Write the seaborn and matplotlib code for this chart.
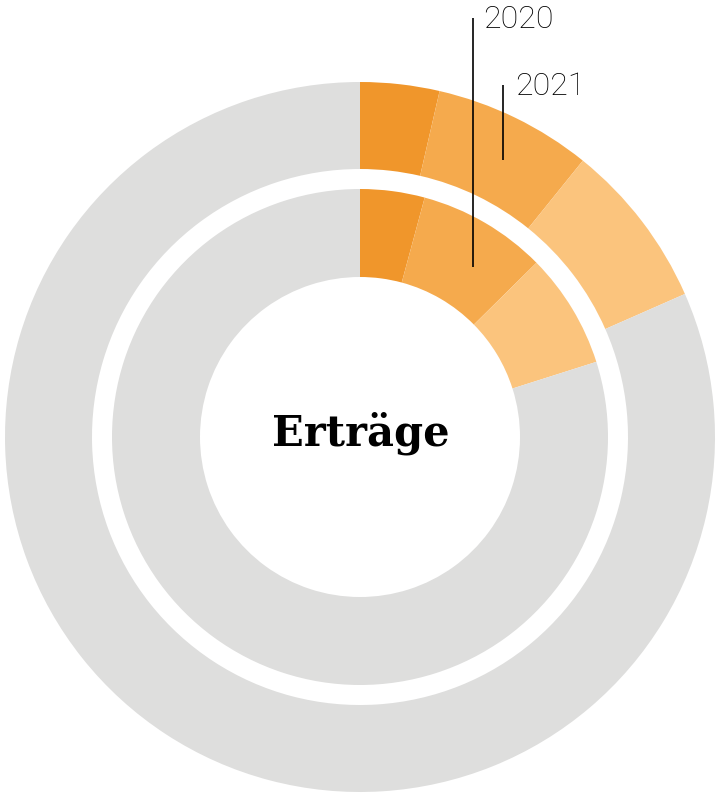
import matplotlib
matplotlib.use("Agg")
import matplotlib.pyplot as plt
import seaborn as sns
import pandas as pd

# ---- data ----
segments = ["Teil A", "Teil B", "Teil C", "Rest"]
values_2021 = [3.6, 7.2, 7.6, 81.6]   # outer ring
values_2020 = [4.2, 8.4, 7.5, 79.9]   # inner ring
ring_labels = ["2020", "2021"]
center_title = "Erträge"
colors = ["#F0962B", "#F5AA4D", "#FBC47D", "#DEDEDD"]

df = pd.DataFrame({"segment": segments, "2021": values_2021, "2020": values_2020})

sns.set_theme(style="white")
plt.rcParams["font.family"] = ["Roboto", "DejaVu Sans"]

W, H = 723, 797
fig = plt.figure(figsize=(W / 100, H / 100), dpi=100)
ax = fig.add_axes([0, 0, 1, 1])

cx, cy = 360, H - 437
ax.pie(df["2021"], radius=355, center=(cx, cy), startangle=90, counterclock=False,
       colors=colors, wedgeprops=dict(width=87, linewidth=0, edgecolor="none"))
ax.pie(df["2020"], radius=248, center=(cx, cy), startangle=90, counterclock=False,
       colors=colors, wedgeprops=dict(width=88, linewidth=0, edgecolor="none"))

ax.set_xlim(0, W)
ax.set_ylim(0, H)
ax.set_aspect("equal")
ax.axis("off")

# leader lines and labels
ax.plot([473, 473], [H - 18, H - 267], color="black", lw=1.2, solid_capstyle="butt")
ax.plot([503, 503], [H - 85, H - 160], color="black", lw=1.2, solid_capstyle="butt")
ax.text(483, H - 28, ring_labels[0], fontsize=23, fontweight="light", color="black",
        ha="left", va="baseline")
ax.text(515, H - 95, ring_labels[1], fontsize=23, fontweight="light", color="black",
        ha="left", va="baseline")

ax.text(cx + 1, H - 445, center_title, fontsize=30, fontweight="bold",
        family=["DejaVu Serif"], color="black", ha="center", va="baseline")

fig.savefig("out.png", dpi=100, facecolor="white")
